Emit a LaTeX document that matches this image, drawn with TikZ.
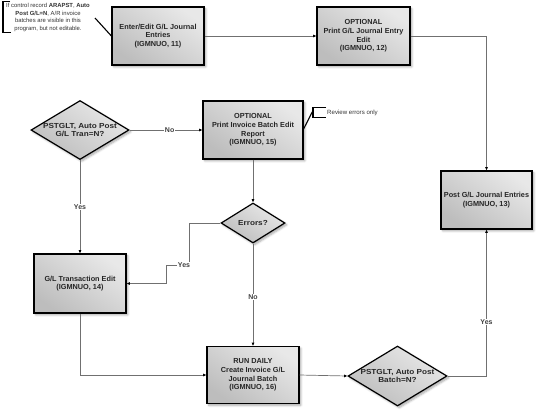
\documentclass[tikz,border=0pt]{standalone}
\usepackage{fontspec}
\setmainfont{Liberation Sans}
\usetikzlibrary{arrows.meta,shapes.geometric,shadows.blur,calc}
\definecolor{boxlight}{HTML}{E8E8E8}
\definecolor{boxdark}{HTML}{BDBDBD}
\definecolor{linegray}{HTML}{707070}
\tikzset{
  shapefill/.style={shading=axis, top color=boxlight, bottom color=boxdark, shading angle=-35,
    draw=black, line width=1.2pt,
    blur shadow={shadow xshift=1.8pt, shadow yshift=-1.8pt, shadow blur steps=6, shadow opacity=35}},
  proc/.style={shapefill, rectangle, inner sep=1pt, align=center,
    font=\fontsize{7.3}{8.7}\selectfont\bfseries, text=black!85},
  dia/.style={shapefill, diamond, inner sep=0pt},
  diatext/.style={align=center, font=\fontsize{7.3}{8.4}\selectfont\bfseries, text=black!85,
    inner sep=0pt, xscale=1.12, transform shape},
  conn/.style={draw=linegray, line width=0.7pt, -{Latex[length=3.2pt,width=3pt,color=black]}},
  lbl/.style={fill=white, inner sep=0.8pt, font=\fontsize{7}{8}\selectfont\bfseries, text=black!75},
  note/.style={align=center, font=\fontsize{5.9}{7.6}\selectfont, text=black!80, inner sep=0pt},
  notebracket/.style={draw=black, line width=1.1pt},
}
\begin{document}
\begin{tikzpicture}[x=1pt,y=-1pt]
\useasboundingbox (0,0) rectangle (537,410);

% process boxes
\node[proc, minimum width=92pt, minimum height=58pt] (b1) at (158,36)
  {Enter/Edit G/L Journal\\Entries\\(IGMNUO, 11)};
\node[proc, minimum width=93pt, minimum height=58pt] (b2) at (363.5,36)
  {OPTIONAL\\Print G/L Journal Entry\\Edit\\(IGMNUO, 12)};
\node[proc, minimum width=100pt, minimum height=58pt] (b3) at (253,130)
  {OPTIONAL\\Print Invoice Batch Edit\\Report\\(IGMNUO, 15)};
\node[proc, minimum width=92pt, minimum height=59pt] (b4) at (80,283.5)
  {G/L Transaction Edit\\(IGMNUO, 14)};
\node[proc, minimum width=92pt, minimum height=57pt] (b5) at (253,375)
  {RUN DAILY\\Create Invoice G/L\\Journal Batch\\(IGMNUO, 16)};
\node[proc, minimum width=91pt, minimum height=58pt] (b6) at (486.5,200)
  {Post G/L Journal Entries\\(IGMNUO, 13)};

% decisions
\node[dia, minimum width=98pt, minimum height=59pt] (d1) at (80,130) {};
\node[diatext] (d1t) at (d1.center) {PSTGLT, Auto Post\\G/L Tran=N?};
\node[dia, minimum width=64pt, minimum height=40pt] (d2) at (253,223) {};
\node[diatext] (d2t) at (d2.center) {Errors?};
\node[dia, minimum width=99pt, minimum height=60pt] (d3) at (397.5,376) {};
\node[diatext] (d3t) at (d3.center) {PSTGLT, Auto Post\\Batch=N?};

% connectors
\draw[conn] (b1.east) -- (b2.west);
\coordinate (c1) at (486.5,36);
\draw[conn] (b2.east) -- (c1) -- (b6.north);
\draw[conn] (d1.east) -- node[lbl, pos=0.55] (lno1) {No} (b3.west);
\draw[conn] (d1.south) -- node[lbl, pos=0.5] (lyes1) {Yes} (b4.north);
\draw[conn] (b3.south) -- (d2.north);
\coordinate (e1) at (189,223);
\coordinate (e2) at (189,265);
\coordinate (e3) at (166,265);
\coordinate (e4) at (166,283.5);
\draw[conn] (d2.west) -- (e1) -- (e2) -- (e3) -- (e4) -- (b4.east);
\node[lbl] (lyes2) at (184,265) {Yes};
\draw[conn] (d2.south) -- node[lbl, pos=0.52] (lno2) {No} (b5.north);
\coordinate (f1) at (80,375);
\draw[conn] (b4.south) -- (f1) -- (b5.west);
\draw[conn] (b5.east) -- (d3.west);
\coordinate (g1) at (486.5,376);
\draw[conn] (d3.east) -- (g1) -- (b6.south);
\node[lbl] (lyes3) at (486.5,322) {Yes};

% annotation top-left
\node[note] (n1) at (48,17.5)
  {If control record \textbf{ARAPST}, \textbf{Auto}\\\textbf{Post G/L=N}, A/R invoice\\batches are visible in this\\program, but not editable.};
\draw[notebracket] (10,1.5) -- (3,1.5) -- (3,32.5) -- (11,32.5);
\coordinate (n1a) at (95,18);
\draw[notebracket] (n1a) -- (b1.west);

% annotation review errors
\node[note, anchor=west, font=\fontsize{6.1}{7}\selectfont] (n2) at (327,113) {Review errors only};
\coordinate (n2a) at (313,110.5);
\draw[notebracket] (326,107.7) -- (313,107.7) -- (313,117.7) -- (326,117.7);
\draw[notebracket] ($(b3.east)+(0,-1)$) -- (n2a);
\end{tikzpicture}
\end{document}
